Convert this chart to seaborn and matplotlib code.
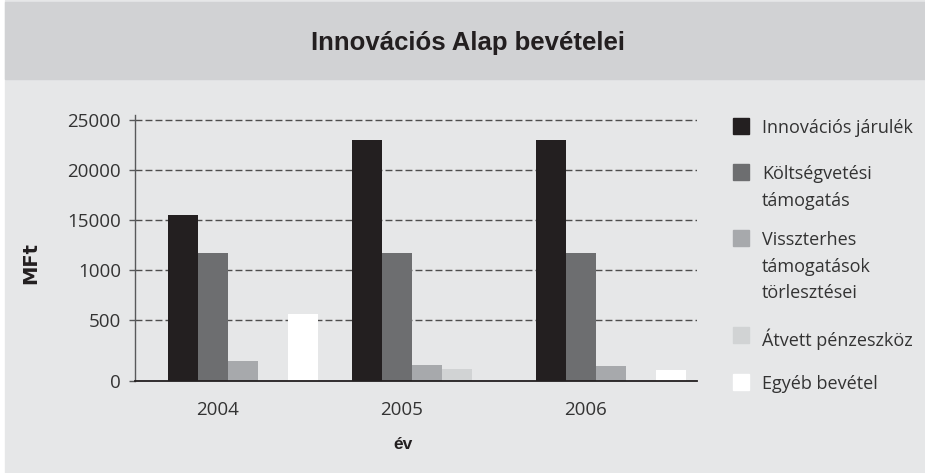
import numpy as np
import pandas as pd
import matplotlib
matplotlib.use("Agg")
import matplotlib.pyplot as plt
from matplotlib.patches import Rectangle
import seaborn as sns

years = ["2004", "2005", "2006"]
items = ["Innovációs járulék", "Költségvetési\ntámogatás",
         "Visszterhes\ntámogatások\ntörlesztései", "Átvett pénzeszköz", "Egyéb bevétel"]
innov = [15500, 23000, 23000]
kolts = [11700, 11700, 11700]
vissz = [1600, 1290, 1200]
atvett = [0, 960, 0]
egyeb = [5570, 0, 880]
colors = ["#231f20", "#6d6e70", "#a7a9ac", "#d1d3d4", "#ffffff"]

tick_vals = [0, 5000, 10000, 15000, 20000, 25000]
tick_labels = ["0", "500", "1000", "15000", "20000", "25000"]
# the original axis is not linear: the lowest step is stretched
tick_pos = [0, 61, 111, 161, 211, 261]

df = pd.DataFrame({"év": years * 5,
                   "tétel": np.repeat(items, 3),
                   "MFt": innov + kolts + vissz + atvett + egyeb})

sns.set_style("white")
plt.rcParams["font.family"] = ["Open Sans", "DejaVu Sans"]
bold_font = ["Liberation Sans", "DejaVu Sans"]

fig = plt.figure(figsize=(9.25, 4.73), dpi=100)
fig.patches.append(Rectangle((5 / 925, 0), 1, 1, transform=fig.transFigure,
                             color="#e6e7e8", zorder=-10))
fig.patches.append(Rectangle((5 / 925, 1 - 79 / 473), 1, 77 / 473, transform=fig.transFigure,
                             color="#d1d2d4", zorder=-9))
fig.text(468 / 925, 1 - 43 / 473, "Innovációs Alap bevételei", ha="center", va="center",
         fontsize=18.5, fontweight="bold", color="#231f20", family=bold_font)

ax = fig.add_axes([135 / 925, 1 - 381 / 473, 562 / 925, 266 / 473])
ax.set_facecolor("none")
sns.barplot(data=df, x="év", y="MFt", hue="tétel", palette=colors, saturation=1,
            width=0.815, linewidth=0, legend=False, ax=ax)

xp = tick_vals + [30000]
yp = tick_pos + [311]
ax.set_yscale("function", functions=(lambda v: np.interp(v, xp, yp),
                                     lambda p: np.interp(p, yp, xp)))
ax.set_ylim(0, 25470)
ax.set_yticks(tick_vals)
ax.set_yticklabels(tick_labels)
ax.set_xlim(-0.587, 2.467)
ax.set_xticks(np.arange(len(years)) - 0.14)
ax.set_xticklabels(years)

ax.set_axisbelow(True)
for v in tick_vals[1:]:
    ax.axhline(v, color="#4d4d4d", lw=1.0, ls=(0, (5, 2.2)), zorder=0)

for s in ["top", "right"]:
    ax.spines[s].set_visible(False)
ax.spines["left"].set_color("#58595b")
ax.spines["left"].set_linewidth(1.0)
ax.spines["bottom"].set_color("#231f20")
ax.spines["bottom"].set_linewidth(1.3)
ax.spines["bottom"].set_zorder(5)
ax.tick_params(axis="y", left=True, length=4, width=1, color="#58595b",
               labelsize=13.5, labelcolor="#333333", pad=6)
ax.tick_params(axis="x", bottom=False, labelsize=13.5, labelcolor="#333333", pad=11)
ax.set_xlabel("év", fontsize=12.5, fontweight="bold", color="#231f20", family=bold_font)
ax.xaxis.set_label_coords((403 - 135) / 562, -(437 - 381) / 266)
ax.set_ylabel("MFt", fontsize=14, fontweight="bold", color="#231f20", family="DejaVu Sans")
ax.yaxis.set_label_coords((40 - 135) / 562, (381 - 263) / 266)

# legend, handles aligned with the first text line
leg_y = [126, 172, 238, 335, 382]
for lab, col, y in zip(items, colors, leg_y):
    fig.patches.append(Rectangle((733 / 925, 1 - (y + 8) / 473), 16 / 925, 16 / 473,
                                 transform=fig.transFigure, color=col))
    fig.text(762 / 925, 1 - (y - 7) / 473, lab, ha="left", va="top", fontsize=13,
             color="#333333", linespacing=1.62)

fig.savefig("out.png", dpi=100)
